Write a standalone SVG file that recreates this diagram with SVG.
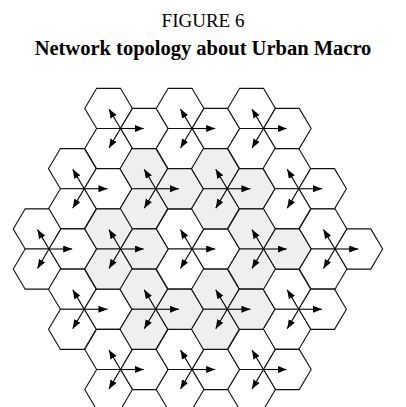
<svg xmlns="http://www.w3.org/2000/svg" xmlns:xlink="http://www.w3.org/1999/xlink" width="406" height="407" viewBox="0 0 406 407">
  <style>
    .hex { stroke: #111; stroke-width: 1.1; stroke-linejoin: miter; }
    .w { fill: #ffffff; }
    .g { fill: #efefef; }
    .arr { stroke: #000; stroke-width: 1.1; fill: none; marker-end: url(#ah); }
    .t1 { font-family: "Liberation Serif", "Times New Roman", serif; font-size: 19px; fill: #000; text-anchor: middle; }
    .t2 { font-family: "Liberation Serif", "Times New Roman", serif; font-size: 20.5px; font-weight: bold; fill: #000; text-anchor: middle; }
  </style>
  <defs>
    <marker id="ah" markerUnits="userSpaceOnUse" markerWidth="10" markerHeight="8" refX="9" refY="3.5" orient="auto">
      <path d="M0,0 L9,3.5 L0,7 z" fill="#000"/>
    </marker>
    <polygon id="hex" class="hex" points="23.83,0 11.92,20.08 -11.92,20.08 -23.83,0 -11.92,-20.08 11.92,-20.08"/>
    <g id="tri">
      <line class="arr" x1="0" y1="0" x2="23.2" y2="0"/>
      <line class="arr" x1="0" y1="0" x2="-11.5" y2="-19.4"/>
      <line class="arr" x1="0" y1="0" x2="-11.5" y2="19.4"/>
    </g>
  </defs>

  <text class="t1" x="203" y="27">FIGURE 6</text>
  <text class="t2" x="203" y="55">Network topology about Urban Macro</text>

  <g id="cells">
    <!-- outer ring sites (white) -->
    <g id="site-1" class="w" transform="translate(120.5,128.5)"><use href="#hex" x="-11.92" y="-20.08"/><use href="#hex" x="23.83" y="0"/><use href="#hex" x="-11.92" y="20.08"/></g>
    <g id="site-2" class="w" transform="translate(192,128.5)"><use href="#hex" x="-11.92" y="-20.08"/><use href="#hex" x="23.83" y="0"/><use href="#hex" x="-11.92" y="20.08"/></g>
    <g id="site-3" class="w" transform="translate(263.5,128.5)"><use href="#hex" x="-11.92" y="-20.08"/><use href="#hex" x="23.83" y="0"/><use href="#hex" x="-11.92" y="20.08"/></g>
    <g id="site-4" class="w" transform="translate(84.25,188.75)"><use href="#hex" x="-11.92" y="-20.08"/><use href="#hex" x="23.83" y="0"/><use href="#hex" x="-11.92" y="20.08"/></g>
    <g id="site-7" class="w" transform="translate(298.75,188.75)"><use href="#hex" x="-11.92" y="-20.08"/><use href="#hex" x="23.83" y="0"/><use href="#hex" x="-11.92" y="20.08"/></g>
    <g id="site-8" class="w" transform="translate(49,249)"><use href="#hex" x="-11.92" y="-20.08"/><use href="#hex" x="23.83" y="0"/><use href="#hex" x="-11.92" y="20.08"/></g>
    <g id="site-12" class="w" transform="translate(335,249)"><use href="#hex" x="-11.92" y="-20.08"/><use href="#hex" x="23.83" y="0"/><use href="#hex" x="-11.92" y="20.08"/></g>
    <g id="site-13" class="w" transform="translate(84.25,309.25)"><use href="#hex" x="-11.92" y="-20.08"/><use href="#hex" x="23.83" y="0"/><use href="#hex" x="-11.92" y="20.08"/></g>
    <g id="site-16" class="w" transform="translate(298.75,309.25)"><use href="#hex" x="-11.92" y="-20.08"/><use href="#hex" x="23.83" y="0"/><use href="#hex" x="-11.92" y="20.08"/></g>
    <g id="site-17" class="w" transform="translate(120.5,369.5)"><use href="#hex" x="-11.92" y="-20.08"/><use href="#hex" x="23.83" y="0"/><use href="#hex" x="-11.92" y="20.08"/></g>
    <g id="site-18" class="w" transform="translate(192,369.5)"><use href="#hex" x="-11.92" y="-20.08"/><use href="#hex" x="23.83" y="0"/><use href="#hex" x="-11.92" y="20.08"/></g>
    <g id="site-19" class="w" transform="translate(263.5,369.5)"><use href="#hex" x="-11.92" y="-20.08"/><use href="#hex" x="23.83" y="0"/><use href="#hex" x="-11.92" y="20.08"/></g>
    <!-- centre site (white) -->
    <g id="site-10" class="w" transform="translate(192,249)"><use href="#hex" x="-11.92" y="-20.08"/><use href="#hex" x="23.83" y="0"/><use href="#hex" x="-11.92" y="20.08"/></g>
    <!-- first ring sites (grey) -->
    <g id="site-5" class="g" transform="translate(155.75,188.75)"><use href="#hex" x="-11.92" y="-20.08"/><use href="#hex" x="23.83" y="0"/><use href="#hex" x="-11.92" y="20.08"/></g>
    <g id="site-6" class="g" transform="translate(227.25,188.75)"><use href="#hex" x="-11.92" y="-20.08"/><use href="#hex" x="23.83" y="0"/><use href="#hex" x="-11.92" y="20.08"/></g>
    <g id="site-9" class="g" transform="translate(120.5,249)"><use href="#hex" x="-11.92" y="-20.08"/><use href="#hex" x="23.83" y="0"/><use href="#hex" x="-11.92" y="20.08"/></g>
    <g id="site-11" class="g" transform="translate(263.5,249)"><use href="#hex" x="-11.92" y="-20.08"/><use href="#hex" x="23.83" y="0"/><use href="#hex" x="-11.92" y="20.08"/></g>
    <g id="site-14" class="g" transform="translate(155.75,309.25)"><use href="#hex" x="-11.92" y="-20.08"/><use href="#hex" x="23.83" y="0"/><use href="#hex" x="-11.92" y="20.08"/></g>
    <g id="site-15" class="g" transform="translate(227.25,309.25)"><use href="#hex" x="-11.92" y="-20.08"/><use href="#hex" x="23.83" y="0"/><use href="#hex" x="-11.92" y="20.08"/></g>
  </g>

  <g id="connectors">
    <use href="#tri" x="120.5" y="128.5"/>
    <use href="#tri" x="192" y="128.5"/>
    <use href="#tri" x="263.5" y="128.5"/>
    <use href="#tri" x="84.25" y="188.75"/>
    <use href="#tri" x="155.75" y="188.75"/>
    <use href="#tri" x="227.25" y="188.75"/>
    <use href="#tri" x="298.75" y="188.75"/>
    <use href="#tri" x="49" y="249"/>
    <use href="#tri" x="120.5" y="249"/>
    <use href="#tri" x="192" y="249"/>
    <use href="#tri" x="263.5" y="249"/>
    <use href="#tri" x="335" y="249"/>
    <use href="#tri" x="84.25" y="309.25"/>
    <use href="#tri" x="155.75" y="309.25"/>
    <use href="#tri" x="227.25" y="309.25"/>
    <use href="#tri" x="298.75" y="309.25"/>
    <use href="#tri" x="120.5" y="369.5"/>
    <use href="#tri" x="192" y="369.5"/>
    <use href="#tri" x="263.5" y="369.5"/>
  </g>
</svg>
